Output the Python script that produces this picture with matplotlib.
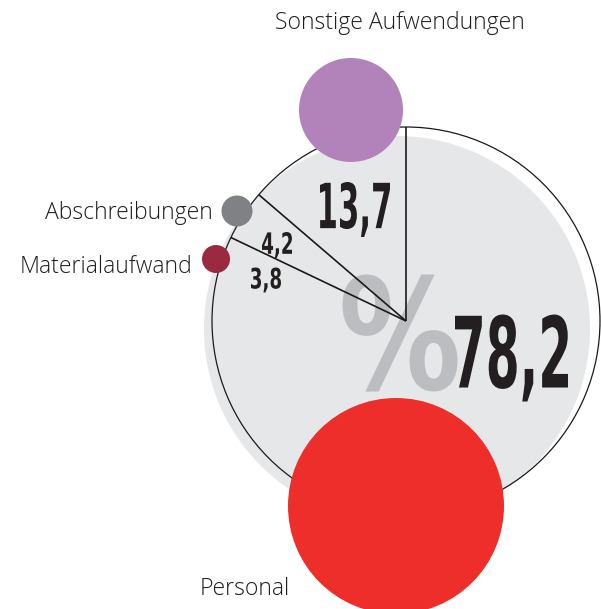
import numpy as np
import matplotlib
matplotlib.use("Agg")
import matplotlib.pyplot as plt
from matplotlib.patches import Circle, PathPatch
from matplotlib.textpath import TextPath
from matplotlib.font_manager import FontProperties
from matplotlib.transforms import Affine2D

# Daten: Aufwandsstruktur in Prozent
kategorien = ["Sonstige Aufwendungen", "Abschreibungen", "Materialaufwand", "Personal"]
werte = [13.7, 4.2, 3.8, 78.2]
beschriftung = ["13,7", "4,2", "3,8", "78,2"]

farben = ["#b283bb", "#808184", "#9b2a41", "#ee2e2a"]

W, H = 601, 609
fig = plt.figure(figsize=(W / 100, H / 100), dpi=100)
ax = fig.add_axes([0, 0, 1, 1])
ax.set_xlim(0, W)
ax.set_ylim(H, 0)
ax.set_aspect("equal")
ax.axis("off")

cx, cy, R = 406, 321, 194

# grauer Hintergrundkreis (leicht versetzt)
ax.add_patch(Circle((397, 329), 193, fc="#e6e7e8", ec="none", zorder=1))


def stempel(s, x, y, w, h, color, zorder):
    tp = TextPath((0, 0), s, size=100,
                  prop=FontProperties(family="DejaVu Sans", weight="bold"))
    bb = tp.get_extents()
    tr = (Affine2D()
          .translate(-(bb.x0 + bb.x1) / 2, -(bb.y0 + bb.y1) / 2)
          .scale(w / bb.width, -h / bb.height)
          .translate(x, y))
    ax.add_patch(PathPatch(tr.transform_path(tp), fc=color, ec="none", zorder=zorder))


# grosses Prozentzeichen
stempel("%", 400, 333, 115, 117, "#bcbdc0", 2)

# Segmentgrenzen
anteile = np.array(werte) / np.sum(werte)
grenzen = 90 + 360 * np.concatenate([[0], np.cumsum(anteile)])
for g in grenzen[:-2]:
    t = np.deg2rad(g)
    ax.plot([cx, cx + R * np.cos(t)], [cy, cy - R * np.sin(t)],
            color="#1a1a1a", lw=1.2, zorder=3, solid_capstyle="butt")

ax.add_patch(Circle((cx, cy), R, fc="none", ec="#1a1a1a", lw=0.9, zorder=3))

# Zahlen
zahl_box = [(355, 209.5, 70, 55), (277, 245, 30, 26), (266, 280, 30, 25), (511.5, 358, 113, 87)]
for s, (x, y, w, h) in zip(beschriftung, zahl_box):
    stempel(s, x, y, w, h, "#231f20", 4)

# Blasen
blasen = [(351, 110, 52), (237, 211, 15.5), (216, 259, 14), (396, 506, 108)]
for (x, y, r), f in zip(blasen, farben):
    ax.add_patch(Circle((x, y), r, fc=f, ec="none", zorder=5))

# Kategorienamen
lab_font = dict(family=["Open Sans", "DejaVu Sans"], weight="light", fontsize=16.6,
                color="#1f1f1f", zorder=6)
ax.text(400, 23, kategorien[0], ha="center", va="center", **lab_font)
ax.text(213, 213, kategorien[1], ha="right", va="center", **lab_font)
ax.text(192, 267, kategorien[2], ha="right", va="center", **lab_font)
ax.text(245, 589, kategorien[3], ha="center", va="center", **lab_font)

fig.savefig("out.png", dpi=100)
